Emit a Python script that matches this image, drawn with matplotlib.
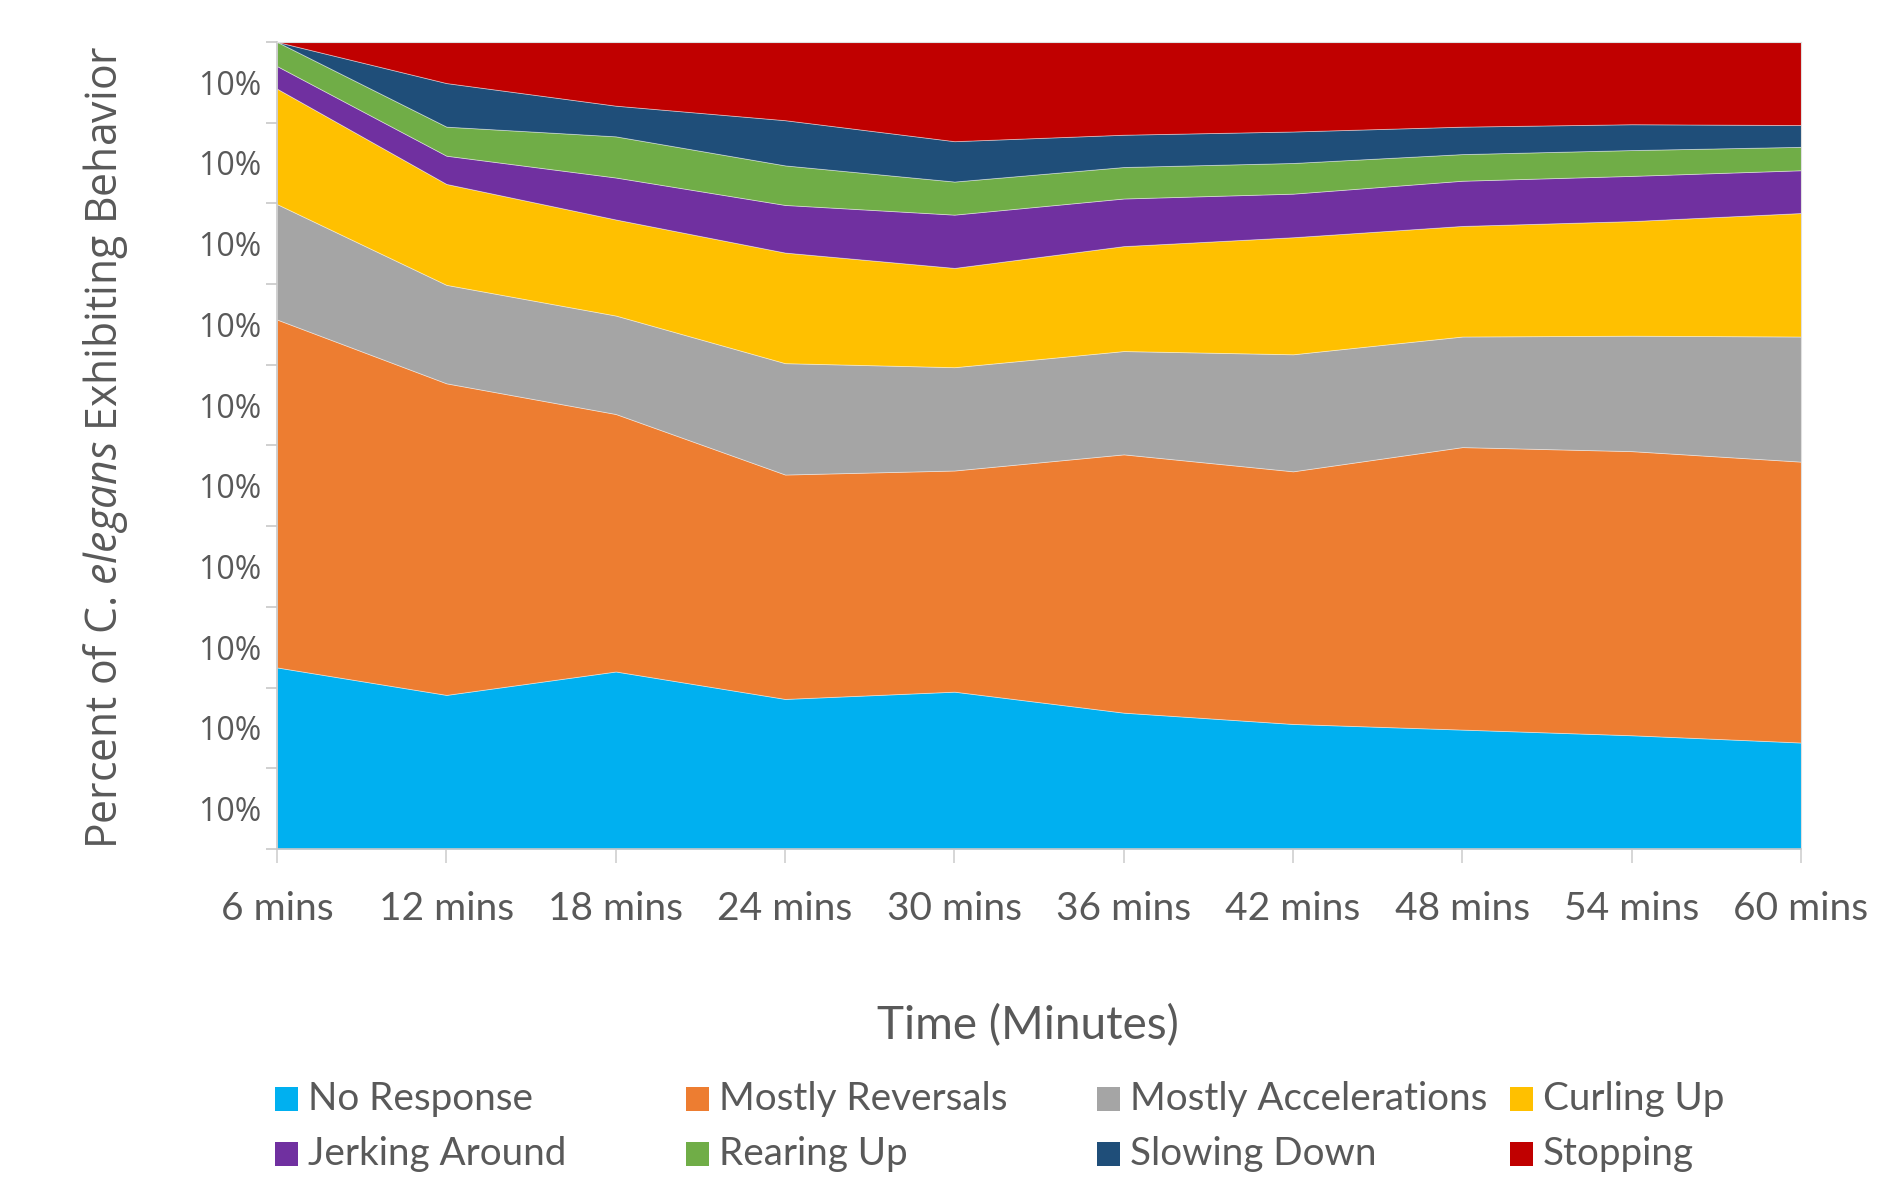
import numpy as np
import matplotlib
matplotlib.use("Agg")
import matplotlib.pyplot as plt
from matplotlib.patches import Rectangle

plt.rcParams['font.family'] = ['Lato', 'DejaVu Sans']
plt.rcParams['mathtext.fontset'] = 'custom'
plt.rcParams['mathtext.rm'] = 'Open Sans'
plt.rcParams['mathtext.it'] = 'Open Sans:italic'

TEXT = '#595959'

times = ['6 mins', '12 mins', '18 mins', '24 mins', '30 mins',
         '36 mins', '42 mins', '48 mins', '54 mins', '60 mins']

# percent of worms per behaviour at each time point
no_response = [22.5, 19.1, 22.0, 18.6, 19.5, 16.9, 15.5, 14.8, 14.1, 13.2]
mostly_reversals = [43.1, 38.6, 31.9, 27.8, 27.4, 32.0, 31.3, 35.0, 35.2, 34.8]
mostly_accelerations = [14.3, 12.2, 12.2, 13.8, 12.8, 12.8, 14.5, 13.7, 14.3, 15.5]
curling_up = [14.3, 12.5, 11.9, 13.7, 12.3, 13.0, 14.5, 13.7, 14.2, 15.3]
jerking_around = [2.8, 3.5, 5.2, 5.9, 6.6, 5.9, 5.4, 5.6, 5.6, 5.3]
rearing_up = [3.0, 3.6, 5.1, 4.9, 4.1, 3.9, 3.8, 3.3, 3.2, 2.9]
slowing_down = [0.0, 5.4, 3.8, 5.6, 5.0, 4.0, 3.9, 3.4, 3.2, 2.7]
stopping = [0.0, 5.1, 7.9, 9.7, 12.3, 11.5, 11.1, 10.5, 10.2, 10.3]

labels = ['No Response', 'Mostly Reversals', 'Mostly Accelerations', 'Curling Up',
          'Jerking Around', 'Rearing Up', 'Slowing Down', 'Stopping']
colors = ['#00B0F0', '#ED7D31', '#A5A5A5', '#FFC000',
          '#7030A0', '#70AD47', '#1F4E79', '#C00000']

series = np.array([no_response, mostly_reversals, mostly_accelerations, curling_up,
                   jerking_around, rearing_up, slowing_down, stopping]) / 100.0
x = np.arange(len(times))

fig = plt.figure(figsize=(18.94, 11.87), dpi=100)
ax = fig.add_axes([0.1463, 0.2847, 0.8046, 0.68])

ax.stackplot(x, series, colors=colors, edgecolor=(1, 1, 1, 0.45), linewidth=0.6)

ax.set_xlim(0, len(times) - 1)
ax.set_ylim(0, 1)

# x axis: categories with outward ticks
ax.set_xticks(x)
ax.set_xticklabels(times, fontsize=28, color=TEXT)
ax.tick_params(axis='x', direction='out', length=10, width=1.2, color='#d0d0d0', pad=20)

# y axis: ticks on the decade lines, labels sit between them
ax.set_yticks(np.arange(0.05, 1.0, 0.1))
ax.set_yticklabels(['10%'] * 10, fontsize=23, color=TEXT, family='Open Sans')
ax.set_yticks(np.arange(0, 1.01, 0.1), minor=True)
ax.tick_params(axis='y', which='major', length=0, pad=11)
ax.tick_params(axis='y', which='minor', direction='out', length=8, width=1.2, color='#c8c8c8')

for side in ['top', 'right']:
    ax.spines[side].set_color('#e0e0e0')
    ax.spines[side].set_linewidth(0.8)
for side in ['left', 'bottom']:
    ax.spines[side].set_color('#c8c8c8')
    ax.spines[side].set_linewidth(1.2)

fig.text(106 / 1894, 1 - 447 / 1187,
         r'Percent of C. $\mathit{elegans}$ Exhibiting Behavior',
         rotation=90, ha='center', va='center', fontsize=30.8,
         color=TEXT, family='Open Sans')

fig.text(1028 / 1894, 1 - 1026 / 1187, 'Time (Minutes)',
         ha='center', va='center', fontsize=33, color=TEXT)

# legend laid out in two rows of four equal-width columns
col_x = [275, 686, 1097, 1510]
row_y = [1099, 1154]
W, H = fig.get_size_inches() * fig.dpi
for i, (lab, col) in enumerate(zip(labels, colors)):
    cx = col_x[i % 4]
    cy = row_y[i // 4]
    fig.patches.append(Rectangle((cx / W, 1 - (cy + 12) / H), 23 / W, 24 / H,
                                 transform=fig.transFigure, facecolor=col,
                                 edgecolor='none'))
    fig.text((cx + 33) / W, 1 - cy / H, lab, ha='left', va='center',
             fontsize=27.8, color=TEXT)

fig.savefig('out.png', dpi=100)
